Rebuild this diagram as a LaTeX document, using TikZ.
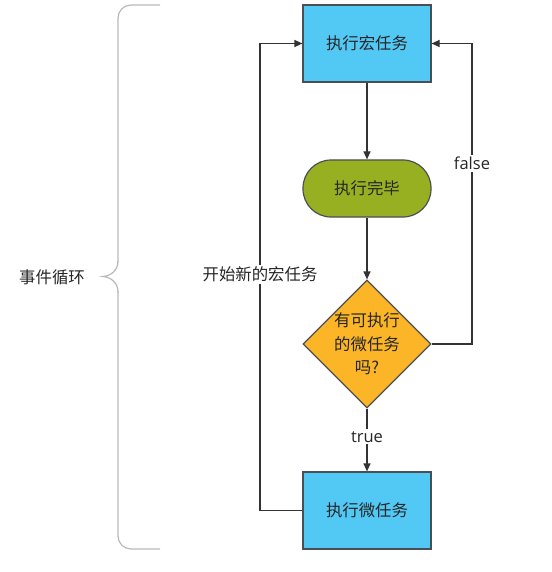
\documentclass[tikz,border=0pt]{standalone}
\usepackage{fontspec}
\setmainfont{Open Sans}
\newfontfamily\cjk{Noto Sans CJK SC}
\usetikzlibrary{shapes.geometric,arrows.meta}
\definecolor{boxblue}{HTML}{52C8F5}
\definecolor{boxborder}{HTML}{4A4F55}
\definecolor{olive}{HTML}{97B021}
\definecolor{diamondfill}{HTML}{FBB526}
\definecolor{linecol}{HTML}{333333}
\definecolor{bracecol}{HTML}{B8B8B8}
\begin{document}
\begin{tikzpicture}[x=1pt,y=-1pt,
  cjkfont/.style={font=\cjk\fontsize{16.4}{23.5}\selectfont},
  box/.style={draw=boxborder, line width=1.2pt, fill=boxblue, minimum width=128pt, minimum height=77pt, inner sep=0pt, cjkfont, text=black!85},
  term/.style={draw=boxborder, line width=1.2pt, fill=olive, minimum width=128pt, minimum height=57pt, inner sep=0pt, rounded corners=28pt, cjkfont, text=black!85},
  decision/.style={diamond, aspect=1, draw=boxborder, line width=1.2pt, fill=diamondfill, minimum width=128pt, minimum height=128pt, inner sep=0pt, align=center, cjkfont, text=black!85},
  conn/.style={draw=linecol, line width=1.2pt},
  arr/.style={conn, -{Triangle[length=8pt,width=7pt]}},
  lbl/.style={fill=white, inner sep=2pt, font=\fontsize{16.5}{20}\selectfont, text=black!85},
  cjklbl/.style={fill=white, inner sep=2pt, cjkfont, text=black!85}
]
\useasboundingbox (0,0) rectangle (551,572);

\node[box] (macro) at (367,43.5) {执行宏任务};
\node[term] (done) at (367,188.5) {执行完毕};
\node[decision] (check) at (367,344) {有可执行\\的微任务\\吗?};
\node[box] (micro) at (367,510.5) {执行微任务};

\coordinate (fr) at (472,344);
\coordinate (fl) at (472,43.5);
\coordinate (lb) at (260,510.5);
\coordinate (lt) at (260,43.5);

\draw[arr] (macro.south) -- (done.north);
\draw[arr] (done.south) -- (check.north);
\draw[arr] (check.south) -- node[lbl, pos=0.45] {true} (micro.north);
\draw[arr] (check.east) -- (fr) -- node[lbl, pos=0.6] {false} (fl) -- (macro.east);
\draw[arr] (micro.west) -- (lb) -- node[cjklbl, pos=0.505] {开始新的宏任务} (lt) -- (macro.west);

% brace
\draw[draw=bracecol, line width=1.2pt, rounded corners=13pt] (160,5) -- (118,5) -- (118,262);
\draw[draw=bracecol, line width=1.2pt] (118,261) .. controls (118,271) and (110,276) .. (103,276.5) .. controls (110,277) and (118,282) .. (118,292);
\draw[draw=bracecol, line width=1.2pt, rounded corners=13pt] (118,291) -- (118,549) -- (160,549);
\node[cjkfont, text=black!85] (loop) at (52,277) {事件循环};
\end{tikzpicture}
\end{document}
